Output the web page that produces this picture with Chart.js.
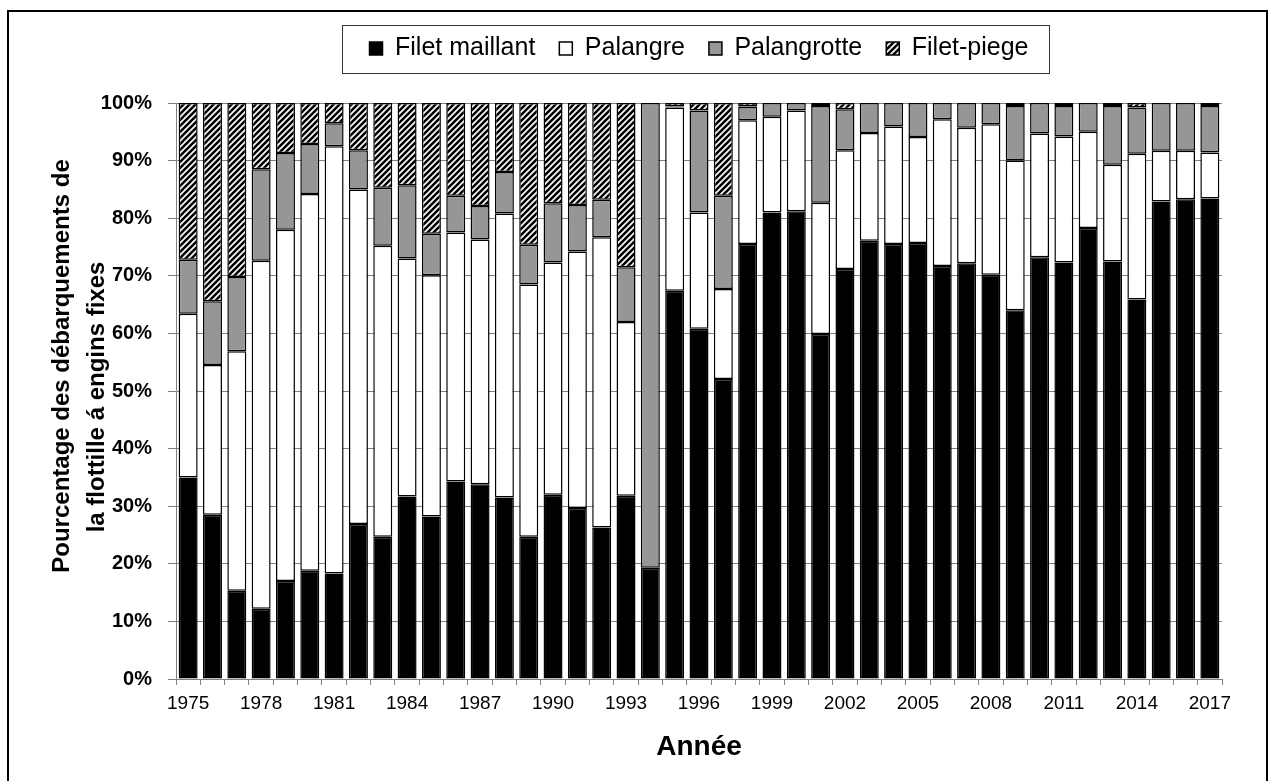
<!DOCTYPE html>
<html>
<head>
<meta charset="utf-8">
<script src="https://cdn.jsdelivr.net/npm/chart.js@4.4.1/dist/chart.umd.min.js"></script>
<style>
  html, body { margin: 0; padding: 0; background: #fff; }
  #wrap { width: 1268px; height: 781px; }
</style>
</head>
<body>
<div id="wrap"><canvas id="chart"></canvas></div>
<script>
// Years on the x axis
const years = [1975, 1976, 1977, 1978, 1979, 1980, 1981, 1982, 1983, 1984,
               1985, 1986, 1987, 1988, 1989, 1990, 1991, 1992, 1993, 1994,
               1995, 1996, 1997, 1998, 1999, 2000, 2001, 2002, 2003, 2004,
               2005, 2006, 2007, 2008, 2009, 2010, 2011, 2012, 2013, 2014,
               2015, 2016, 2017];

// Share of landings (%) per gear type
const filetMaillant = [35.0, 28.5, 15.3, 12.2, 17.0, 18.8, 18.3, 26.9, 24.7, 31.7,
                       28.2, 34.3, 33.8, 31.5, 24.7, 32.0, 29.7, 26.3, 31.8, 19.3,
                       67.4, 60.8, 52.1, 75.5, 81.0, 81.2, 59.9, 71.2, 76.1, 75.5,
                       75.7, 71.7, 72.2, 70.2, 64.0, 73.2, 72.3, 78.3, 72.5, 65.9,
                       82.9, 83.3, 83.4];
const palangre = [28.4, 26.0, 41.6, 60.4, 61.0, 65.4, 74.2, 58.1, 50.5, 41.3,
                  41.9, 43.2, 42.5, 49.3, 43.8, 40.3, 44.5, 50.4, 30.2, 0,
                  31.8, 20.2, 15.6, 21.5, 16.6, 17.5, 22.8, 20.6, 18.7, 20.4,
                  18.4, 25.5, 23.5, 26.1, 26.0, 21.5, 21.9, 16.7, 16.8, 25.3,
                  8.8, 8.4, 8.0];
const palangrotte = [9.4, 11.1, 12.9, 15.9, 13.3, 8.7, 4.0, 6.8, 10.1, 12.7,
                     7.2, 6.4, 5.8, 7.2, 6.9, 10.3, 8.1, 6.5, 9.5, 80.7,
                     0.2, 17.7, 16.2, 2.4, 2.4, 1.3, 16.8, 7.1, 5.2, 4.1,
                     5.9, 2.8, 4.3, 3.7, 9.5, 5.3, 5.3, 5.0, 10.2, 8.0,
                     8.3, 8.3, 8.1];
const filetPiege = [27.2, 34.4, 30.2, 11.5, 8.7, 7.1, 3.5, 8.2, 14.7, 14.3,
                    22.7, 16.1, 17.9, 12.0, 24.6, 17.4, 17.7, 16.8, 28.5, 0,
                    0.6, 1.3, 16.1, 0.6, 0, 0, 0.5, 1.1, 0, 0,
                    0, 0, 0, 0, 0.5, 0, 0.5, 0, 0.5, 0.8,
                    0, 0, 0.5];

const yTicks = [0, 10, 20, 30, 40, 50, 60, 70, 80, 90, 100];

const FONT = '"Liberation Sans", Arial, sans-serif';

// Diagonal hatch for the "Filet-piege" series
function makeHatch() {
    const c = document.createElement('canvas');
    c.width = 6;
    c.height = 6;
    const g = c.getContext('2d');
    g.fillStyle = '#fff';
    g.fillRect(0, 0, 6, 6);
    g.strokeStyle = '#000';
    g.lineWidth = 2.6;
    g.beginPath();
    g.moveTo(0, 6); g.lineTo(6, 0);
    g.moveTo(-3, 3); g.lineTo(3, -3);
    g.moveTo(3, 9); g.lineTo(9, 3);
    g.stroke();
    return g.createPattern(c, 'repeat');
}
const hatch = makeHatch();

function bars(label, values, color) {
    return {
        label: label,
        data: values.map(v => v || null),
        backgroundColor: color,
        borderColor: '#000',
        borderWidth: 1.5,
        borderSkipped: false,
        barPercentage: 0.78,
        categoryPercentage: 1
    };
}

// Outer frame, legend box and the two-line y title
const decorations = {
    id: 'decorations',
    afterDraw(chart) {
        const ctx = chart.ctx;
        ctx.save();
        ctx.strokeStyle = '#000';
        ctx.lineWidth = 2;
        ctx.strokeRect(8, 11, 1259, 800);

        const boxes = chart.legend.legendHitBoxes;
        const left = Math.min(...boxes.map(b => b.left));
        const right = Math.max(...boxes.map(b => b.left + b.width));
        ctx.lineWidth = 1;
        ctx.strokeStyle = '#333';
        ctx.strokeRect(Math.round(left - 28) + 0.5, 25.5, Math.round(right - left + 48), 48);

        ctx.fillStyle = '#000';
        ctx.font = 'bold 24px ' + FONT;
        ctx.textAlign = 'center';
        ctx.textBaseline = 'middle';
        ctx.translate(62, 366);
        ctx.rotate(-Math.PI / 2);
        ctx.fillText('Pourcentage des débarquements de', 0, 0);
        ctx.rotate(Math.PI / 2);
        ctx.translate(35, 31);
        ctx.rotate(-Math.PI / 2);
        ctx.fillText('la flottille á engins fixes', 0, 0);
        ctx.restore();
    }
};

new Chart(document.getElementById('chart'), {
    type: 'bar',
    data: {
        labels: years,
        datasets: [
            bars('Filet maillant', filetMaillant, '#000'),
            bars('Palangre', palangre, '#fff'),
            bars('Palangrotte', palangrotte, '#969696'),
            bars('Filet-piege', filetPiege, hatch)
        ]
    },
    options: {
        responsive: true,
        maintainAspectRatio: false,
        animation: false,
        layout: { padding: { top: 12, left: 0, right: 46, bottom: 0 } },
        plugins: {
            legend: {
                position: 'top',
                weight: 3000,
                fullSize: false,
                labels: {
                    color: '#000',
                    font: { family: FONT, size: 25 },
                    boxWidth: 13,
                    boxHeight: 13,
                    padding: 24
                }
            },
            title: {
                display: true,
                text: ' ',
                font: { size: 10 },
                padding: { top: 20, bottom: 0 }
            },
            tooltip: { enabled: false }
        },
        scales: {
            x: {
                stacked: true,
                offset: true,
                afterFit(scale) { scale.height = 102; },
                grid: {
                    offset: true,
                    drawOnChartArea: false,
                    drawTicks: true,
                    tickLength: 6,
                    color: '#808080'
                },
                border: { color: '#808080', width: 1 },
                ticks: {
                    color: '#000',
                    font: { family: FONT, size: 19 },
                    autoSkip: false,
                    maxRotation: 0,
                    padding: 7,
                    callback: (v, i) => (i % 3 === 0 ? years[i] : '')
                },
                title: {
                    display: true,
                    text: 'Année',
                    color: '#000',
                    font: { family: FONT, size: 28, weight: 'bold' },
                    padding: { top: 0, bottom: 17 }
                }
            },
            y: {
                stacked: true,
                min: 0,
                max: 100,
                afterFit(scale) { scale.width = 176; },
                afterBuildTicks(scale) { scale.ticks = yTicks.map(v => ({ value: v })); },
                grid: {
                    color: '#808080',
                    lineWidth: 1,
                    tickLength: 8
                },
                border: { color: '#808080', width: 1 },
                ticks: {
                    color: '#000',
                    font: { family: FONT, size: 20, weight: 'bold' },
                    padding: 16,
                    callback: v => v + '%'
                }
            }
        }
    },
    plugins: [decorations]
});
</script>
</body>
</html>
